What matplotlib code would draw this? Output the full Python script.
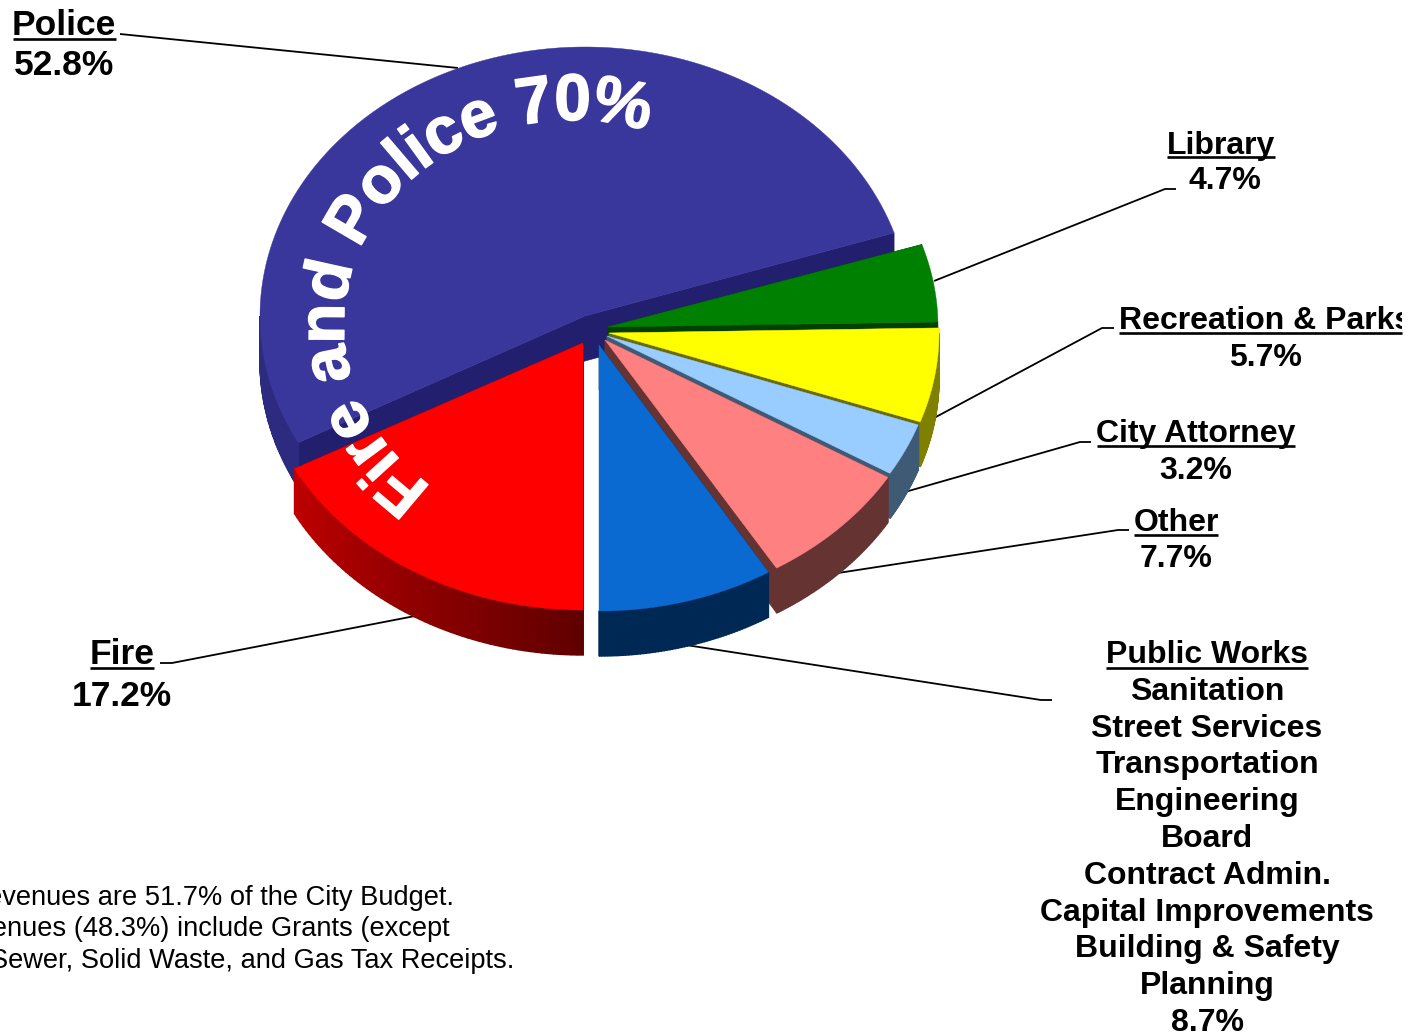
#!/usr/bin/env python
import matplotlib
matplotlib.use('Agg')
import matplotlib.patheffects as pe
import matplotlib.pyplot as plt
import numpy as np
from matplotlib.font_manager import FontProperties
from matplotlib.patches import Rectangle
from matplotlib.textpath import text_to_path

FONT = 'Liberation Sans'

categories = ['Police', 'Library', 'Recreation & Parks', 'City Attorney', 'Other', 'Public Works', 'Fire']
shares = [52.8, 4.7, 5.7, 3.2, 7.7, 8.7, 17.2]
top_colors = ['#39369c', '#008000', '#ffff00', '#99ccff', '#ff8080', '#0a6ad2', '#ff0000']
face_colors = ['#211f6e', '#004000', '#6b6b00', '#3f5a75', '#663333', '#002855', '#8c0000']
wall_colors = [('#2d2b80', '#2d2b80'), ('#004000', '#004000'), ('#7f7f00', '#7f7f00'),
               ('#3f5a75', '#3f5a75'), ('#663333', '#663333'), ('#002855', '#002855'),
               ('#c00000', '#600000')]
apex_x = [585, 608, 609, 607, 605, 599, 583]
apex_y = [316, 327, 333, 336, 340, 345, 343]
radius_x = [325, 330, 330, 330, 330, 326, 327]
radius_y = [269, 267, 267, 267, 267, 266, 267]

DEPTH = 45
START_ANGLE = 18.0

public_works_lines = ['Sanitation', 'Street Services', 'Transportation', 'Engineering', 'Board',
                      'Contract Admin.', 'Capital Improvements', 'Building & Safety', 'Planning', '8.7%']
note_lines = ['revenues are 51.7% of the City Budget.',
              'revenues (48.3%) include Grants (except',
              'Sewer, Solid Waste, and Gas Tax Receipts.']

fig = plt.figure(figsize=(14.16, 10.34), dpi=100)
ax = fig.add_axes([0, 0, 1, 1])
ax.set_xlim(0, 1416)
ax.set_ylim(1034, 0)
ax.axis('off')


def px_to_pt(px):
    return px * 0.72


def leader(xs, ys):
    ax.plot(xs, ys, color='black', lw=1.3, solid_capstyle='butt', zorder=1)


def rim(i, angles):
    t = np.radians(angles)
    return apex_x[i] + radius_x[i] * np.cos(t), apex_y[i] - radius_y[i] * np.sin(t)


def cut_face(i, angle, z):
    cx, cy = apex_x[i], apex_y[i]
    ex, ey = rim(i, np.array([angle]))
    ax.fill([cx, ex[0], ex[0], cx], [cy, ey[0], ey[0] + DEPTH, cy + DEPTH],
            color=face_colors[i], lw=0.4, zorder=z)


def outer_wall(i, a0, a1, z):
    # only the front half of the rim can be seen
    lo = max(a0, 180)
    hi = min(a1, 360)
    if hi <= lo:
        return
    steps = np.linspace(lo, hi, 61)
    c0 = np.array(matplotlib.colors.to_rgb(wall_colors[i][0]))
    c1 = np.array(matplotlib.colors.to_rgb(wall_colors[i][1]))
    for k in range(len(steps) - 1):
        x, y = rim(i, steps[k:k + 2])
        f = (k + 0.5) / (len(steps) - 1)
        shade = c0 + (c1 - c0) * f
        ax.fill([x[0], x[1], x[1], x[0]], [y[0], y[1], y[1] + DEPTH, y[0] + DEPTH],
                facecolor=shade, edgecolor=shade, lw=1.0, zorder=z)


def draw_slice(i, a0, a1, z):
    if a0 < 0:
        a0 += 360
        a1 += 360
    cut_face(i, a1, z)
    cut_face(i, a0, z)
    outer_wall(i, a0, a1, z)
    x, y = rim(i, np.linspace(a0, a1, 200))
    ax.fill(np.r_[apex_x[i], x], np.r_[apex_y[i], y], color=top_colors[i], lw=0.3, zorder=z)


# Police sweeps counter-clockwise, the five small slices step clockwise from its start
total = sum(shares)
spans = [s / total * 360 for s in shares]
police_end = START_ANGLE + spans[0]
draw_slice(0, START_ANGLE, police_end, 2)
a = START_ANGLE
for i in [1, 2, 3, 4, 5]:
    draw_slice(i, a - spans[i], a, 2 + i)
    a -= spans[i]
draw_slice(6, police_end, police_end + spans[6], 8)


def label(x, y, s, size, ha='center', clip=None):
    t = ax.text(x, y, s, fontsize=px_to_pt(size), fontweight='bold', family=FONT,
                ha=ha, va='baseline', color='black', zorder=12)
    if clip is not None:
        t.set_clip_path(clip)
        t.set_clip_on(True)
    return t


def underline(x0, x1, y):
    ax.plot([x0, x1], [y, y], color='black', lw=1.9, solid_capstyle='butt', zorder=12)


leader([120, 458], [34, 68])
leader([1176, 1165, 934], [189, 189, 281])
leader([1114, 1102, 934], [328, 328, 418])
leader([1091, 1080, 905], [442, 442, 492])
leader([1129, 1118, 838], [530, 530, 573])
leader([1052, 1041, 686], [700, 700, 645])
leader([160, 172, 415], [663, 663, 616])

label(64, 35, 'Police', 35.4)
underline(13, 116, 39)
label(64, 75, '52.8%', 35.4)

label(1221, 154, 'Library', 32)
underline(1167, 1275, 157)
label(1225, 189, '4.7%', 32)

page_edge = Rectangle((0, 0), 1402, 1034, transform=ax.transData)
label(1119, 329, 'Recreation & Parks', 32, ha='left', clip=page_edge)
underline(1119, 1402, 333)
label(1265, 366, '5.7%', 32)

label(1196, 442, 'City Attorney', 32)
underline(1097, 1295, 446)
label(1196, 479, '3.2%', 32)

label(1176, 531, 'Other', 32)
underline(1134, 1218, 535)
label(1176, 567, '7.7%', 32)

label(122, 664, 'Fire', 35.4)
underline(90, 154, 668)
label(122, 706, '17.2%', 35.4)

label(1207, 663, 'Public Works', 32)
underline(1106, 1308, 668)
for n, line in enumerate(public_works_lines):
    label(1207, 700 + n * 36.75, line, 32)

for n, line in enumerate(note_lines):
    right = [454, 450, 514][n]
    ax.text(right, 905 + n * 31.5, line, fontsize=px_to_pt(27.3), family=FONT,
            ha='right', va='baseline', color='black', zorder=12)


def curved_text(s, cx, cy, rx, ry, start, size, spacing):
    # place one glyph at a time along an elliptical baseline, clockwise on screen
    prop = FontProperties(family=FONT, weight='bold', size=px_to_pt(size))
    fine = np.radians(np.linspace(start, start - 300, 3000))
    px = cx + rx * np.cos(fine)
    py = cy - ry * np.sin(fine)
    run = np.r_[0, np.cumsum(np.hypot(np.diff(px), np.diff(py)))]
    scale = 100 / 72.0

    def width(t):
        if not t:
            return 0.0
        return text_to_path.get_text_width_height_descent(t, prop, False)[0] * scale

    for k, ch in enumerate(s):
        if ch == ' ':
            continue
        mid = (width(s[:k]) + width(ch) / 2) * spacing
        x = np.interp(mid, run, px)
        y = np.interp(mid, run, py)
        dx = np.interp(mid + 1, run, px) - np.interp(mid - 1, run, px)
        dy = np.interp(mid + 1, run, py) - np.interp(mid - 1, run, py)
        rot = np.degrees(np.arctan2(-dy, dx))
        t = ax.text(x, y, ch, fontproperties=prop, color='white', ha='center', va='baseline',
                    rotation=rot, rotation_mode='anchor', zorder=10)
        t.set_path_effects([pe.withStroke(linewidth=1.0, foreground='white')])


curved_text('Fire and Police 70%', 572, 325, 228, 205, 232, 66, 0.98)

fig.savefig('out.png', dpi=100, facecolor='white')
